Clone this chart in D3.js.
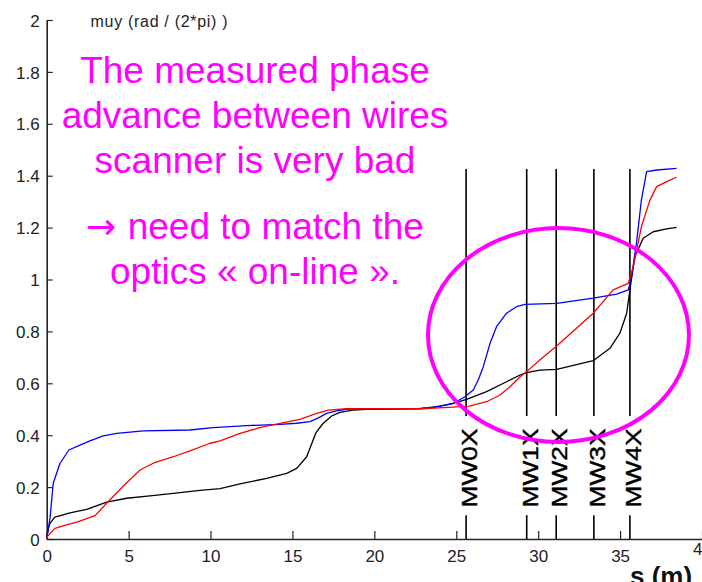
<!DOCTYPE html>
<html>
<head>
<meta charset="utf-8">
<script src="https://cdn.jsdelivr.net/npm/d3@7"></script>
<style>
  html, body { margin: 0; padding: 0; background: #fff; }
  svg { display: block; }
  text { font-family: "Liberation Sans", Arial, sans-serif; }
</style>
</head>
<body>
<svg id="chart" width="702" height="582"></svg>
<script>
// Vertical phase advance muy (rad / 2pi) along s (m), three optics
const blueData = [[0,0],[0.1,0.04],[0.2,0.08],[0.4,0.215],[0.8,0.29],[1.35,0.343],[2.03,0.362],[2.64,0.378],[3.45,0.397],[4.27,0.407],[5.9,0.417],[8.75,0.42],[10.15,0.429],[12.2,0.437],[14.24,0.442],[15.26,0.446],[16.07,0.452],[16.58,0.467],[17.09,0.484],[17.7,0.494],[18.3,0.5],[19.1,0.502],[22.8,0.503],[23.6,0.507],[24.8,0.522],[25.53,0.548],[26.04,0.574],[26.34,0.613],[26.65,0.664],[27.06,0.754],[27.46,0.818],[28.07,0.87],[28.68,0.895],[29.19,0.904],[31.13,0.908],[33.36,0.928],[34.79,0.944],[35.5,0.96],[35.7,1.011],[36.0,1.14],[36.3,1.306],[36.62,1.416],[37.23,1.422],[38.45,1.428]];
const redData = [[0,0],[0.04,0.009],[0.5,0.041],[1.22,0.054],[1.93,0.067],[2.95,0.09],[3.66,0.138],[4.68,0.204],[5.7,0.266],[6.5,0.292],[7.73,0.317],[8.75,0.34],[9.97,0.369],[10.58,0.378],[11.8,0.407],[13.0,0.429],[14.24,0.446],[15.46,0.461],[16.48,0.484],[17.19,0.497],[18.3,0.502],[22.8,0.502],[24.8,0.508],[25.8,0.512],[26.85,0.529],[27.67,0.555],[28.28,0.587],[28.89,0.625],[29.3,0.645],[30.1,0.69],[31.13,0.744],[33.36,0.87],[34.58,0.96],[35.5,0.985],[35.8,1.049],[36.3,1.203],[36.82,1.306],[37.23,1.358],[37.84,1.377],[38.45,1.394]];
const blackData = [[0,0],[0.1,0.04],[0.2,0.06],[0.5,0.084],[1.42,0.101],[2.44,0.114],[3.66,0.142],[4.88,0.157],[6.3,0.166],[7.73,0.176],[9.36,0.187],[10.58,0.194],[11.8,0.212],[13.43,0.234],[14.65,0.253],[15.26,0.272],[15.87,0.317],[16.44,0.41],[16.88,0.446],[17.39,0.474],[17.9,0.488],[18.7,0.497],[19.5,0.5],[22.8,0.502],[24.0,0.512],[24.8,0.523],[25.63,0.538],[26.85,0.568],[28.07,0.606],[28.89,0.632],[29.3,0.641],[30.1,0.651],[31.13,0.654],[33.36,0.687],[34.38,0.735],[34.99,0.793],[35.4,0.87],[35.6,0.96],[35.9,1.088],[36.41,1.159],[37.02,1.184],[37.84,1.195],[38.45,1.201]];

// Wire scanner positions (m)
const wireNames = ["MW0X", "MW1X", "MW2X", "MW3X", "MW4X"];
const wirePos = [25.6, 29.3, 31.1, 33.4, 35.6];

const xTicks = [0, 5, 10, 15, 20, 25, 30, 35, 40];
const yTicks = [0, 0.2, 0.4, 0.6, 0.8, 1, 1.2, 1.4, 1.6, 1.8, 2];

const noteLines = [
  "The measured phase",
  "advance between wires",
  "scanner is very bad",
  "need to match the",
  "optics \u00ab on-line \u00bb."
];

const svg = d3.select("#chart");
const x = d3.scaleLinear().domain([0, 40]).range([46.7, 702]);
const y = d3.scaleLinear().domain([0, 2]).range([539, 20]);
const axisColor = "#262626";

// Axes (ticks pointing inward)
const gx = svg.append("g").attr("transform", `translate(0,${y(0)})`)
  .call(d3.axisTop(x).tickValues(xTicks).tickSize(8).tickSizeOuter(0).tickFormat(d3.format("d")));
gx.select(".domain").attr("stroke", axisColor).attr("stroke-width", 1.6);
gx.selectAll(".tick line").attr("stroke", axisColor).attr("stroke-width", 1.2);
gx.selectAll(".tick text").attr("y", d => d === 40 ? 16 : 23).attr("dy", 0)
  .attr("font-size", 17).attr("fill", "#222").attr("font-family", "Liberation Sans, Arial, sans-serif");

const gy = svg.append("g").attr("transform", `translate(${x(0)},0)`)
  .call(d3.axisRight(y).tickValues(yTicks).tickSize(6).tickSizeOuter(0).tickFormat(d => d3.format("")(d)));
gy.select(".domain").attr("stroke", axisColor).attr("stroke-width", 1.6);
gy.selectAll(".tick line").attr("stroke", axisColor).attr("stroke-width", 1.2);
gy.selectAll(".tick text").attr("x", -7).attr("text-anchor", "end").attr("dy", "0.36em")
  .attr("font-size", 17).attr("fill", "#222").attr("font-family", "Liberation Sans, Arial, sans-serif");

// Axis titles
svg.append("text").attr("x", 90.5).attr("y", 27).attr("font-size", 16)
  .attr("letter-spacing", 0.7).attr("fill", "#222").text("muy (rad / (2*pi) )");
svg.append("text").attr("x", 630).attr("y", 585).attr("font-size", 26)
  .attr("font-weight", "bold").attr("fill", "#111").text("s (m)");

// Wire scanner markers: vertical lines with rotated labels
const wires = svg.append("g");
wirePos.forEach((s, i) => {
  const xp = x(s);
  wires.append("line").attr("x1", xp).attr("x2", xp).attr("y1", y(1.426)).attr("y2", y(0.474))
    .attr("stroke", "#000").attr("stroke-width", 1.6);
  wires.append("line").attr("x1", xp).attr("x2", xp).attr("y1", y(0.092)).attr("y2", y(0))
    .attr("stroke", "#000").attr("stroke-width", 1.6);
  wires.append("text")
    .attr("transform", `translate(${xp + 11},468) rotate(-90)`)
    .attr("text-anchor", "middle").attr("font-size", 22)
    .attr("textLength", 79).attr("lengthAdjust", "spacingAndGlyphs")
    .attr("stroke", "#000").attr("stroke-width", 0.4)
    .attr("fill", "#000").text(wireNames[i]);
});

// Phase advance curves
const line = d3.line().x(d => x(d[0])).y(d => y(d[1]));
[[blackData, "#000000"], [blueData, "#0000ff"], [redData, "#ff0000"]].forEach(([data, color]) => {
  svg.append("path").datum(data).attr("d", line)
    .attr("fill", "none").attr("stroke", color).attr("stroke-width", 1.3)
    .attr("stroke-linejoin", "round");
});

// Highlight ellipse around the wire scanner region
const cx = x(31.24), cy = y(0.786);
svg.append("ellipse").attr("cx", cx).attr("cy", cy)
  .attr("rx", x(31.24 + 7.965) - cx).attr("ry", y(0.786 - 0.412) - cy)
  .attr("fill", "none").attr("stroke", "#ff00ff").attr("stroke-width", 4);

// Annotation text
const notes = svg.append("g").attr("fill", "#ff00ff").attr("font-size", 37).attr("text-anchor", "middle");
const noteBaselines = [82.7, 127.7, 172.7, 239, 284];
noteLines.forEach((t, i) => {
  const tx = notes.append("text").attr("x", 255).attr("y", noteBaselines[i]);
  if (i === 3) {
    // arrow glyph taken from DejaVu, which draws it larger
    tx.append("tspan").attr("font-family", "DejaVu Sans").attr("font-size", 36).text("\u2192 ");
  }
  tx.append("tspan").text(t);
});
</script>
</body>
</html>
